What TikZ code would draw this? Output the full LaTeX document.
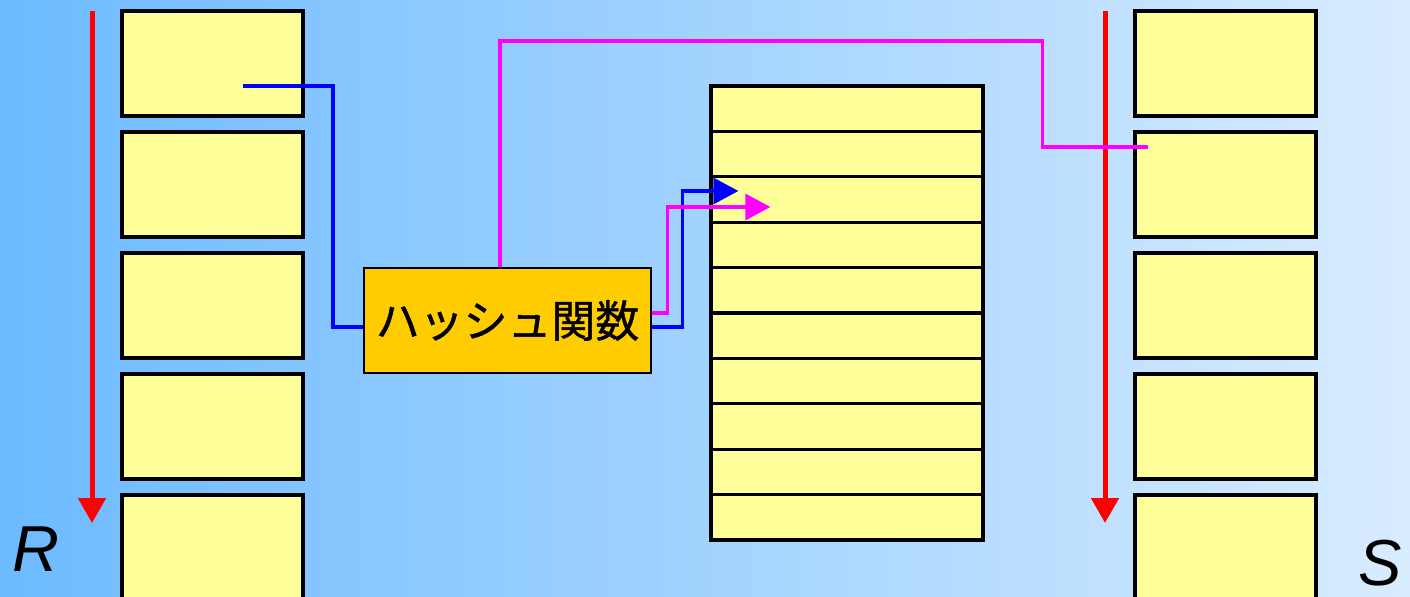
\documentclass[tikz,border=0pt]{standalone}
\usepackage{fontspec}
\setsansfont{Liberation Sans}
\newfontfamily\jpfont[FakeBold=1]{Noto Sans CJK JP}
\usetikzlibrary{arrows.meta,calc}
\definecolor{recfill}{RGB}{255,255,153}
\definecolor{hashfill}{RGB}{255,204,0}
\definecolor{bgleft}{RGB}{108,186,255}
\definecolor{bgmid}{RGB}{178,218,255}
\definecolor{bgright}{RGB}{216,236,255}
\definecolor{hotpink}{RGB}{255,0,255}
\definecolor{pureblue}{RGB}{0,0,255}
\definecolor{purered}{RGB}{255,0,0}

\begin{document}
\begin{tikzpicture}[x=0.02cm, y=-0.02cm,
  rec/.style={draw, line width=0.065cm, fill=recfill, inner sep=0pt,
    minimum width=3.62cm, minimum height=2.1cm},
  slot/.style={draw, line width=0.065cm, fill=recfill, inner sep=0pt,
    minimum width=5.44cm, minimum height=0.908cm},
  scan/.style={purered, line width=0.1cm, -{Triangle[length=0.5cm, width=0.54cm]}},
  link/.style={line width=0.065cm, -{Triangle[length=0.5cm, width=0.52cm]}},
  lbl/.style={inner sep=0pt, anchor=base west,
    font=\sffamily\itshape\fontsize{37}{40}\selectfont}]
  \useasboundingbox (0,0) rectangle (1410,597);
  \clip (0,0) rectangle (1410,597);
  \shade[left color=bgleft, middle color=bgmid, right color=bgright]
    (0,0) rectangle (1410,597);

  \foreach \i in {1,...,5} {
    \node[rec] (r\i) at (212.5, {63.5+121*(\i-1)}) {};
    \node[rec] (s\i) at (1225.5, {63.5+121*(\i-1)}) {};
  }
  \foreach \i in {1,...,10}
    \node[slot] (h\i) at (847, {108.7+45.4*(\i-1)}) {};

  \node[draw, line width=0.055cm, fill=hashfill, inner sep=0pt,
    minimum width=5.74cm, minimum height=2.1cm,
    font=\jpfont\fontsize{25}{30}\selectfont] (hash) at (507.5,320.5) {ハッシュ関数};

  \coordinate (rtop) at (92,11);
  \coordinate (rend) at (92,523);
  \coordinate (stop) at (1105,11);
  \coordinate (send) at (1105,523);
  \draw[scan] (rtop) -- (rend);
  \draw[scan] (stop) -- (send);

  \coordinate (rsrc) at ($(r1.center)+(30.5,22.5)$);
  \coordinate (ssrc) at ($(s2.west)+(15,-37.5)$);
  \draw[pureblue, line width=0.065cm] (rsrc) -- ++(90,0) |- ($(hash.west)+(0,6.5)$);
  \draw[hotpink, line width=0.065cm] ($(hash.north)+(-7.5,0)$) |- ($(ssrc)+(-106,-106)$)
    |- (ssrc);
  \draw[pureblue, link] ($(hash.east)+(0,6.5)$) -- ++(30,0) |- ($(h3.west)+(29,-8.5)$);
  \draw[hotpink, link] ($(hash.east)+(0,-7.5)$) -- ++(15,0) |- ($(h3.west)+(61,7.5)$);

  \node[lbl] (rlbl) at (12,572) {R};
  \node[lbl] (slbl) at (1358,585) {S};
\end{tikzpicture}
\end{document}
